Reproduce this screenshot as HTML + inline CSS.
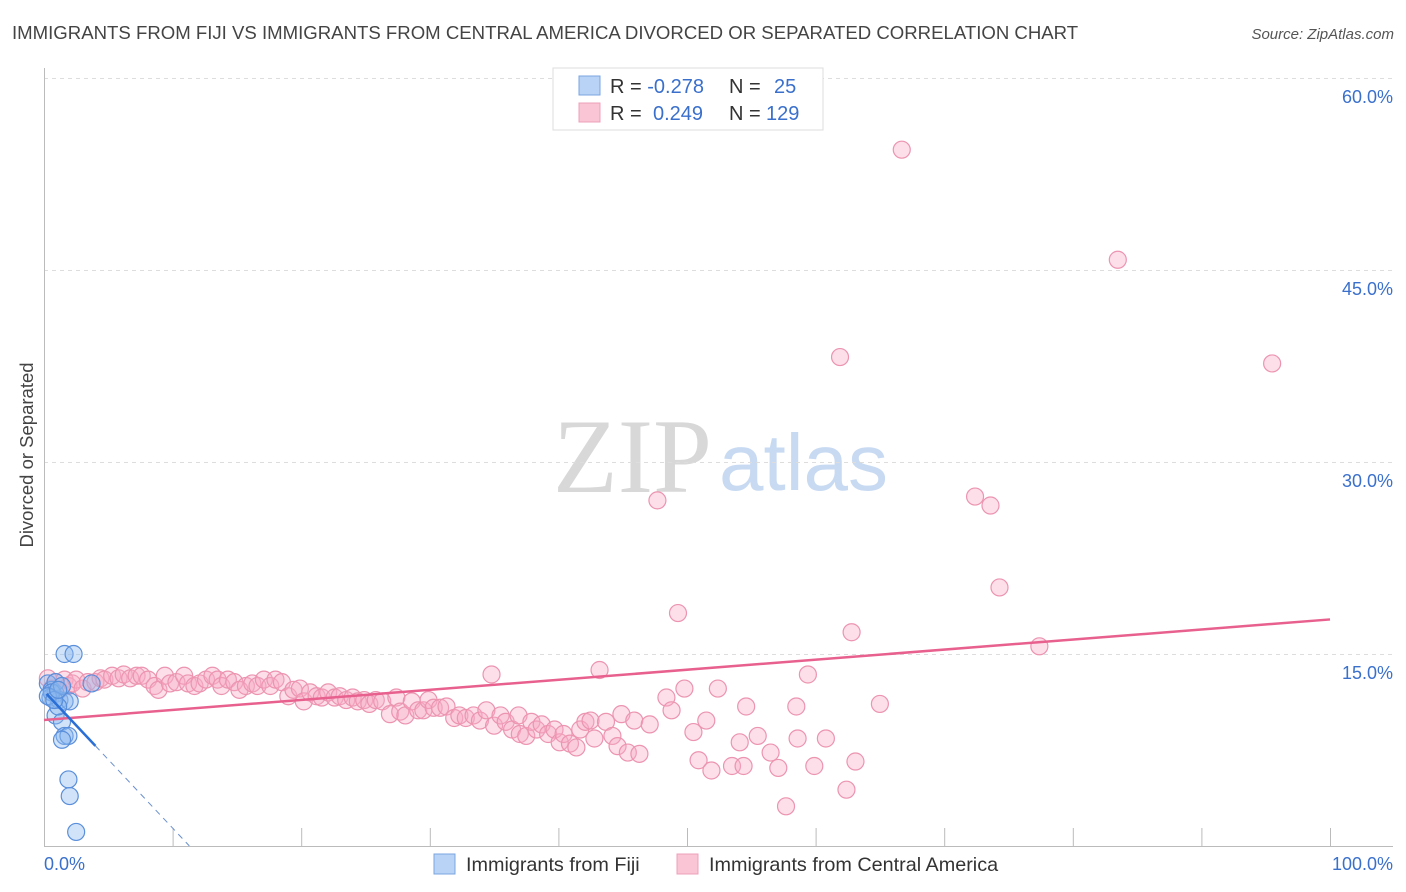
<!DOCTYPE html>
<html><head><meta charset="utf-8"><style>
body{margin:0;background:#fff;font-family:"Liberation Sans",sans-serif;}
#wrap{position:relative;width:1406px;height:892px;overflow:hidden;}
</style></head><body>
<div id="wrap">
<svg id="svg" width="1406" height="892" xmlns="http://www.w3.org/2000/svg">
<text x="12" y="39" font-size="18.6" fill="#444">IMMIGRANTS FROM FIJI VS IMMIGRANTS FROM CENTRAL AMERICA DIVORCED OR SEPARATED CORRELATION CHART</text>
<text x="1394" y="39" font-size="15" fill="#555" font-style="italic" text-anchor="end">Source: ZipAtlas.com</text>
<text transform="translate(33,455) rotate(-90)" font-size="18.5" fill="#444" text-anchor="middle">Divorced or Separated</text>
<g>
<text x="553" y="492" font-size="106" font-family="Liberation Serif,serif" fill="#d8d8d8">ZIP</text>
<text x="719" y="490" font-size="80" fill="#c8daf2">atlas</text>
</g>
<g id="grid"></g><g id="axes"></g><g id="marks"></g>
<g>
<rect x="553" y="68" width="270" height="62" fill="#fff" stroke="#ddd"/>
<rect x="579" y="76" width="21" height="19" fill="#b8d3f5" stroke="#7aa6e0"/>
<rect x="579" y="103" width="21" height="19" fill="#fac5d5" stroke="#eea0b8"/>
<text x="610" y="93" font-size="20" fill="#333">R = <tspan fill="#3a70cc">-0.278</tspan><tspan x="729">N = </tspan><tspan x="774" fill="#3a70cc">25</tspan></text>
<text x="610" y="120" font-size="20" fill="#333">R = <tspan x="653" fill="#3a70cc">0.249</tspan><tspan x="729">N = </tspan><tspan x="766" fill="#3a70cc">129</tspan></text>
</g>
<g>
<rect x="434" y="854" width="21" height="20" fill="#b8d3f5" stroke="#7aa6e0"/>
<text x="466" y="871" font-size="19.8" fill="#333">Immigrants from Fiji</text>
<rect x="677" y="854" width="21" height="20" fill="#fac5d5" stroke="#eea0b8"/>
<text x="709" y="871" font-size="19.8" fill="#333">Immigrants from Central America</text>
</g>
</svg>
</div>
<script>
const yTicks=[15,30,45,60];
const yTickLabels=["15.0%","30.0%","45.0%","60.0%"];
const xTickLabels=["0.0%","100.0%"];
const fijiX=[0.3,0.6,0.9,0.5,0.9,1.2,1.6,2.0,1.6,2.3,3.7,0.9,1.4,1.6,1.9,1.4,1.9,2.0,2.5,0.6,1.1,1.4,0.3,0.8,1.1];
const fijiY=[12.7,12.2,11.9,11.6,12.8,11.4,11.3,11.3,15.0,15.0,12.7,10.2,9.7,8.6,8.6,8.3,5.2,3.9,1.1,12.0,10.9,12.5,11.7,11.4,12.2];
const caX=[0.3,0.6,0.9,1.2,1.6,1.9,2.2,2.5,3.0,3.4,4.0,4.4,4.7,5.3,5.8,6.2,6.7,7.2,7.6,8.1,8.6,8.9,9.4,9.8,10.3,10.9,11.2,11.7,12.1,12.6,13.1,13.5,13.8,14.3,14.8,15.2,15.7,16.2,16.6,17.1,17.6,18.0,18.5,19.0,19.4,19.9,20.2,20.7,21.2,21.6,22.1,22.6,23.0,23.5,24.0,24.4,24.9,25.3,25.8,26.3,26.9,27.4,27.7,28.1,28.6,29.1,29.5,29.9,30.3,30.8,31.3,31.9,32.3,32.8,33.4,33.9,34.4,34.8,35.0,35.5,35.9,36.4,36.9,37.0,37.5,37.9,38.3,38.7,39.2,39.7,40.1,40.4,40.9,41.4,41.7,42.1,42.5,42.8,43.2,43.7,44.2,44.6,44.9,45.4,45.9,46.3,47.1,47.7,48.4,48.8,49.3,49.8,50.5,50.9,51.5,51.9,52.4,53.5,54.1,54.4,54.6,55.5,56.5,57.1,57.7,58.5,58.6,59.4,59.9,60.8,61.9,62.4,62.8,63.1,65.0,66.7,72.4,73.6,74.3,77.4,83.5,95.5];
const caY=[13.1,12.3,12.8,12.2,13.0,12.5,12.7,13.0,12.3,12.8,12.8,13.1,13.0,13.3,13.1,13.4,13.1,13.3,13.3,13.0,12.5,12.2,13.3,12.7,12.8,13.3,12.7,12.5,12.7,13.0,13.3,13.0,12.5,13.0,12.8,12.2,12.5,12.7,12.5,13.0,12.5,13.0,12.8,11.7,12.2,12.3,11.3,12.0,11.7,11.6,12.0,11.6,11.7,11.4,11.6,11.3,11.4,11.1,11.4,11.3,10.3,11.6,10.5,10.2,11.3,10.6,10.6,11.4,10.8,10.8,10.9,10.0,10.2,10.0,10.2,9.8,10.6,13.4,9.4,10.2,9.7,9.1,10.2,8.75,8.6,9.7,9.1,9.5,8.75,9.1,8.1,8.75,8.0,7.7,9.1,9.7,9.8,8.4,13.75,9.7,8.6,7.8,10.3,7.3,9.8,7.2,9.5,27.0,11.6,10.6,18.2,12.3,8.9,6.7,9.8,5.9,12.3,6.25,8.1,6.25,10.9,8.6,7.3,6.1,3.1,10.9,8.4,13.4,6.25,8.4,38.2,4.4,16.7,6.6,11.1,54.4,27.3,26.6,20.2,15.6,45.8,37.7];
const caTrend=[9.84,17.7];      // y at x=0 and x=100
const fijiTrend=[12.1,-1.07];   // intercept, slope
const fijiSolidEnd=4.0, fijiDashEnd=11.3;

const NS="http://www.w3.org/2000/svg";
const X0=44,X1=1330,Y0=846,YPER=12.8;
const sx=v=>X0+(X1-X0)*v/100;
const sy=v=>Y0-v*YPER;
function mk(tag,attrs,parent){const e=document.createElementNS(NS,tag);for(const k in attrs)e.setAttribute(k,attrs[k]);parent.appendChild(e);return e;}
const grid=document.getElementById('grid'),axes=document.getElementById('axes'),marks=document.getElementById('marks');
yTicks.forEach((t,i)=>{
  const l=mk('line',{x1:44,x2:1393,y1:sy(t)+0.5,y2:sy(t)+0.5,stroke:'#ddd','stroke-dasharray':'4,4'},grid);
  
  
  const tx=mk('text',{x:1393,y:sy(t)+25,'font-size':18,fill:'#3a70cc','text-anchor':'end'},axes);
  tx.textContent=yTickLabels[i];
  
  
});
let a=mk('line',{x1:44.5,x2:44.5,y1:68,y2:846,stroke:'#bbb'},axes);


a=mk('line',{x1:44,x2:1393,y1:846.5,y2:846.5,stroke:'#bbb'},axes);


for(let i=1;i<=10;i++){
  const t=mk('line',{x1:sx(i*10)+0.5,x2:sx(i*10)+0.5,y1:828,y2:846,stroke:'#bbb'},axes);
  
  
}
[[0,'start',44],[100,'end',1393]].forEach((d,i)=>{
  const tx=mk('text',{x:d[2],y:870,'font-size':18,fill:'#3a70cc','text-anchor':d[1]},axes);
  tx.textContent=xTickLabels[i];
  
  
});
caX.forEach((x,i)=>{
  const c=mk('circle',{cx:sx(x),cy:sy(caY[i]),r:8.5,fill:'rgba(248,170,196,0.38)',stroke:'#ec94b0','stroke-width':1.2},marks);
  
  
});
fijiX.forEach((x,i)=>{
  const c=mk('circle',{cx:sx(x),cy:sy(fijiY[i]),r:8.5,fill:'rgba(140,185,240,0.4)',stroke:'#5a8fdb','stroke-width':1.2},marks);
  
  
});
let t=mk('line',{x1:sx(0),y1:sy(caTrend[0]),x2:sx(100),y2:sy(caTrend[1]),stroke:'#e8608e','stroke-width':2.5},marks);


const fy=x=>fijiTrend[0]+fijiTrend[1]*x;
t=mk('line',{x1:sx(0.2),y1:sy(fy(0.2)),x2:sx(fijiSolidEnd),y2:sy(fy(fijiSolidEnd)),stroke:'#2a6fd6','stroke-width':2.5},marks);


t=mk('line',{x1:sx(fijiSolidEnd),y1:sy(fy(fijiSolidEnd)),x2:sx(fijiDashEnd),y2:sy(fy(fijiDashEnd)),stroke:'#6a90d0','stroke-width':1,'stroke-dasharray':'6,5'},marks);


</script>
</body></html>
